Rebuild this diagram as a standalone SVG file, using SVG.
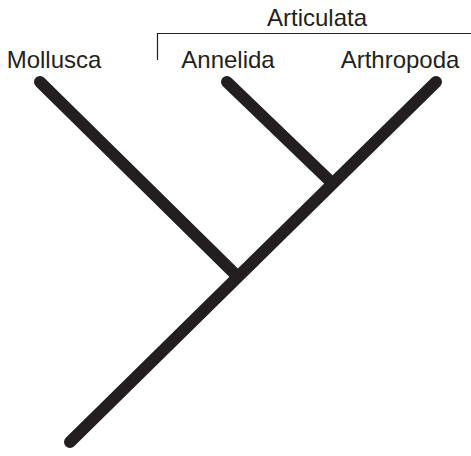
<svg xmlns="http://www.w3.org/2000/svg" width="471" height="456" viewBox="0 0 471 456">
<style>
.br{stroke:#231f20;stroke-width:12;stroke-linecap:round;fill:none}
.bk{stroke:#231f20;stroke-width:1.2;fill:none}
text{font-family:"Liberation Sans",Arial,sans-serif;font-size:24px;fill:#231f20}
</style>
<rect width="471" height="456" fill="#fff"/>
<g id="connectors">
<line class="br" x1="70" y1="442" x2="436" y2="82"/>
<line class="br" x1="40" y1="82" x2="237" y2="276"/>
<line class="br" x1="227" y1="82" x2="331" y2="182"/>
<path class="bk" d="M157.5 60V33.5H471"/>
</g>
<g id="articulata"><text x="317" y="26" text-anchor="middle">Articulata</text></g>
<g id="mollusca"><text x="54" y="68" text-anchor="middle">Mollusca</text></g>
<g id="annelida"><text x="228" y="68" text-anchor="middle">Annelida</text></g>
<g id="arthropoda"><text x="400" y="68" text-anchor="middle">Arthropoda</text></g>
</svg>
